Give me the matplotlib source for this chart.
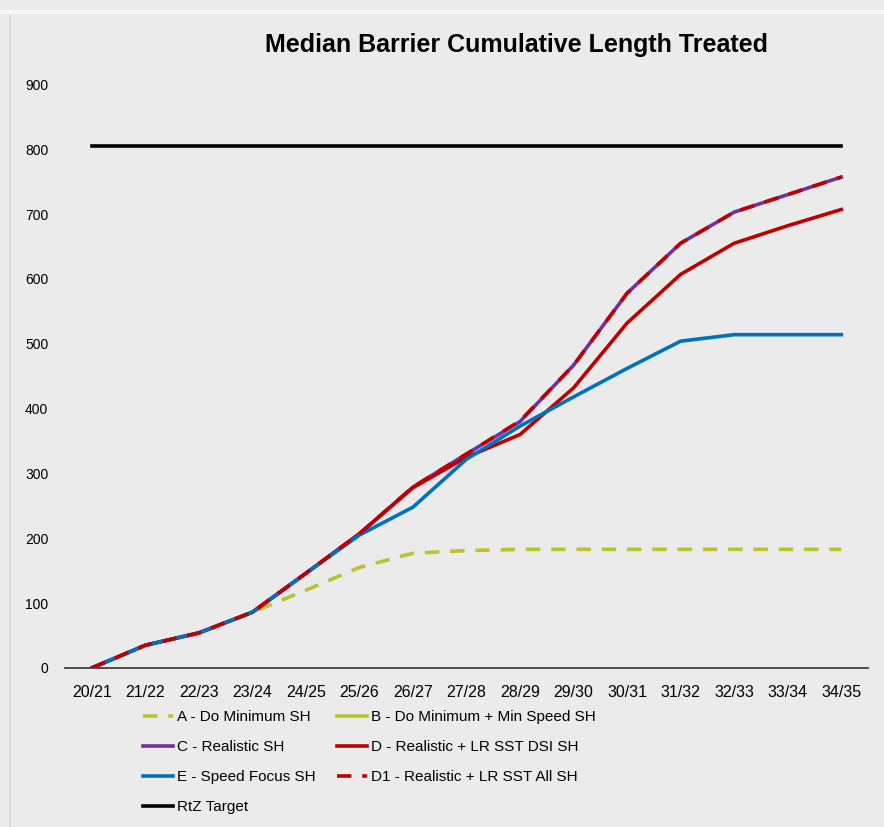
import numpy as np
import matplotlib
matplotlib.use("Agg")
import matplotlib.pyplot as plt
from matplotlib.lines import Line2D

periods = ["20/21", "21/22", "22/23", "23/24", "24/25", "25/26", "26/27", "27/28",
           "28/29", "29/30", "30/31", "31/32", "32/33", "33/34", "34/35"]

a_do_min = [0, 35, 54, 86, 120, 155, 177, 181, 183, 183, 183, 183, 183, 183, 183]
b_do_min_speed = [np.nan] * 15  # not visible in the chart
c_realistic = [0, 35, 54, 86, 146, 207, 279, 330, 380, 467, 578, 655, 703, 730, 757]
d_realistic_dsi = [0, 35, 54, 86, 146, 207, 278, 325, 360, 432, 532, 607, 655, 682, 707]
e_speed = [0, 35, 54, 86, 146, 205, 248, 322, 373, 418, 462, 504, 514, 514, 514]
d1_realistic_all = [0, 35, 54, 86, 146, 207, 279, 330, 381, 467, 578, 655, 703, 730, 757]
rtz_target = [805] * 15

GREEN = "#B7C42C"
PURPLE = "#7030A0"
RED = "#C00000"
BLUE = "#0070C0"
BG = "#EBEBEB"
FONT = ["Liberation Sans Narrow", "Liberation Sans", "DejaVu Sans"]

plt.rcParams["font.family"] = ["Liberation Sans", "DejaVu Sans"]

fig = plt.figure(figsize=(8.84, 8.27), dpi=100, facecolor=BG)
ax = fig.add_axes([0.0735, 0.1923, 0.9085, 0.7057])
ax.set_facecolor(BG)

x = np.arange(len(periods))
lw = 2.6
la, = ax.plot(x, a_do_min, color=GREEN, lw=lw, dashes=(4, 3))
lb, = ax.plot(x, b_do_min_speed, color=GREEN, lw=lw)
lc, = ax.plot(x, c_realistic, color=PURPLE, lw=lw)
ld, = ax.plot(x, d_realistic_dsi, color=RED, lw=lw)
le, = ax.plot(x, e_speed, color=BLUE, lw=lw)
ld1, = ax.plot(x, d1_realistic_all, color=RED, lw=lw, dashes=(4, 3))
lt, = ax.plot(x, rtz_target, color="black", lw=lw)

ax.set_xlim(-0.5, 14.5)
ax.set_ylim(0, 900)
ax.set_yticks(range(0, 901, 100))
ax.set_xticks(x)
ax.set_xticklabels(periods, fontsize=11.5)
for lab in ax.get_yticklabels():
    lab.set_family(FONT)
    lab.set_fontsize(10)
ax.tick_params(axis="y", length=0, pad=12)
ax.tick_params(axis="x", length=0, pad=12)
for s in ["top", "right", "left"]:
    ax.spines[s].set_visible(False)
ax.spines["bottom"].set_color("#404040")
ax.spines["bottom"].set_linewidth(1.3)

fig.text(0.584, 0.945, "Median Barrier Cumulative Length Treated", ha="center", va="center",
         fontsize=18, fontweight="bold", family=FONT)

leg_kw = dict(loc="upper left", frameon=False, handlelength=1.96, handletextpad=0.26,
              labelspacing=1.05, borderpad=0, borderaxespad=0,
              prop={"family": FONT, "size": 11})
leg1 = fig.legend([la, lc, le, lt],
                  ["A - Do Minimum SH", "C - Realistic SH", "E - Speed Focus SH", "RtZ Target"],
                  bbox_to_anchor=(0.1618, 0.1415), **leg_kw)
leg2 = fig.legend([lb, ld, ld1],
                  ["B - Do Minimum + Min Speed SH", "D - Realistic + LR SST DSI SH",
                   "D1 - Realistic + LR SST All SH"],
                  bbox_to_anchor=(0.3812, 0.1415), **leg_kw)

fig.add_artist(Line2D([0.011, 0.011], [0, 0.985], transform=fig.transFigure,
                      color="#D8D8D8", lw=1.2))
fig.add_artist(Line2D([0, 1], [0.985, 0.985], transform=fig.transFigure,
                      color="#F7F7F7", lw=3))

fig.savefig("out.png", dpi=100, facecolor=BG)
